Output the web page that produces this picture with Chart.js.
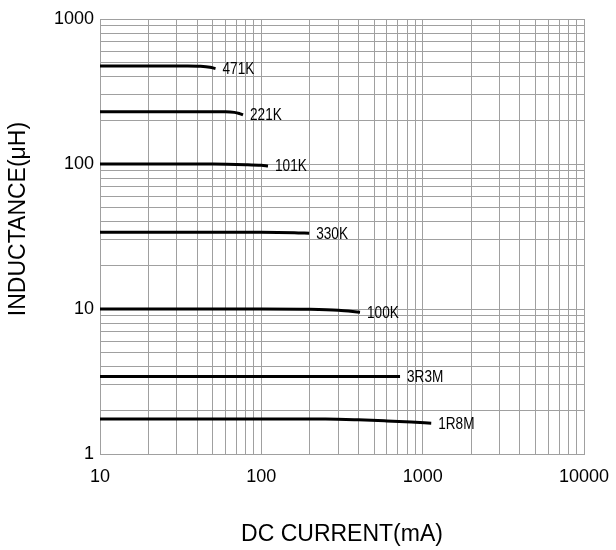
<!DOCTYPE html>
<html>
<head>
<meta charset="utf-8">
<script src="https://cdn.jsdelivr.net/npm/chart.js@4/dist/chart.umd.min.js"></script>
<style>
  html, body { margin: 0; padding: 0; background: #fff; }
  #wrap { width: 616px; height: 550px; position: relative; }
</style>
</head>
<body>
<div id="wrap"><canvas id="chart"></canvas></div>
<script>
// part numbers, one curve each
const partNames = ['471K', '221K', '101K', '330K', '100K', '3R3M', '1R8M'];

// DC current (mA) for each curve
const currents = [
    [10, 35, 42, 48, 52],
    [10, 60, 68, 73, 77],
    [10, 50, 80, 100, 110],
    [10, 100, 160, 198],
    [10, 100, 200, 300, 409],
    [10, 724],
    [10, 250, 400, 600, 850, 1130]
];

// inductance (uH) for each curve
const inductances = [
    [474, 474, 472, 465, 455],
    [229, 229, 227, 223, 218],
    [100, 100, 99, 98, 97],
    [33.8, 33.8, 33.6, 33.3],
    [10, 10, 9.95, 9.8, 9.5],
    [3.43, 3.43],
    [1.74, 1.74, 1.72, 1.69, 1.66, 1.63]
];

// labelled ticks
const xTickLabels = [10, 100, 1000, 10000];
const yTickLabels = [1, 10, 100, 1000];

const GRID = '#a0a0a0';
const FONT = "'Liberation Sans', Arial, sans-serif";

// gridline positions: 1..9 in every decade
function logGrid(min, max) {
    const out = [];
    for (let d = min; d < max; d *= 10) {
        for (let k = 1; k < 10; k++) out.push(Math.round(d * k * 1000) / 1000);
    }
    out.push(max);
    return out;
}

const datasets = partNames.map((name, i) => ({
    label: name,
    data: currents[i].map((x, j) => ({ x, y: inductances[i][j] })),
    borderColor: '#000',
    borderWidth: 3,
    pointRadius: 0,
    cubicInterpolationMode: 'monotone',
    fill: false
}));

// part number next to the end of each curve (narrow lettering)
const endLabels = {
    id: 'endLabels',
    afterDatasetsDraw(chart) {
        const ctx = chart.ctx;
        chart.data.datasets.forEach((ds, i) => {
            const pts = chart.getDatasetMeta(i).data;
            const last = pts[pts.length - 1];
            ctx.save();
            ctx.translate(last.x + 7, last.y + 1);
            ctx.scale(0.85, 1);
            ctx.font = '16px ' + FONT;
            ctx.fillStyle = '#000';
            ctx.textAlign = 'left';
            ctx.textBaseline = 'middle';
            ctx.fillText(ds.label, 0, 0);
            ctx.restore();
        });
    }
};

// rotated y title
const yTitle = {
    id: 'yTitle',
    afterDraw(chart) {
        const ctx = chart.ctx;
        ctx.save();
        ctx.translate(18.5, 219);
        ctx.rotate(-Math.PI / 2);
        ctx.font = '23px ' + FONT;
        ctx.fillStyle = '#000';
        ctx.textAlign = 'center';
        ctx.textBaseline = 'middle';
        ctx.fillText('INDUCTANCE(\u03bcH)', 0, 0);
        ctx.restore();
    }
};

function axis(min, max, labels, extra) {
    return Object.assign({
        type: 'logarithmic',
        min: min,
        max: max,
        afterBuildTicks: s => { s.ticks = logGrid(min, max).map(v => ({ value: v })); },
        grid: { color: GRID, lineWidth: 1, drawTicks: false },
        border: { color: GRID, width: 1 }
    }, extra, {
        ticks: Object.assign({
            autoSkip: false,
            maxRotation: 0,
            color: '#000',
            font: { family: FONT, size: 18 },
            callback: v => labels.includes(v) ? String(v) : ''
        }, extra.ticks)
    });
}

new Chart(document.getElementById('chart'), {
    type: 'line',
    data: { datasets },
    options: {
        responsive: true,
        maintainAspectRatio: false,
        animation: false,
        layout: { padding: { top: 19, right: 32, left: 0, bottom: 0 } },
        plugins: {
            legend: { display: false },
            tooltip: { enabled: false }
        },
        scales: {
            x: axis(10, 10000, xTickLabels, {
                afterFit: s => { s.height = 96; s.paddingLeft = 0; s.paddingRight = 0; },
                ticks: { padding: 12 },
                title: {
                    display: true,
                    text: 'DC CURRENT(mA)',
                    color: '#000',
                    font: { family: FONT, size: 23 },
                    padding: { top: 0, bottom: 2 }
                }
            }),
            y: axis(1, 1000, yTickLabels, {
                afterFit: s => { s.width = 100; s.paddingTop = 0; s.paddingBottom = 0; },
                ticks: { padding: 6 }
            })
        }
    },
    plugins: [endLabels, yTitle]
});
</script>
</body>
</html>
